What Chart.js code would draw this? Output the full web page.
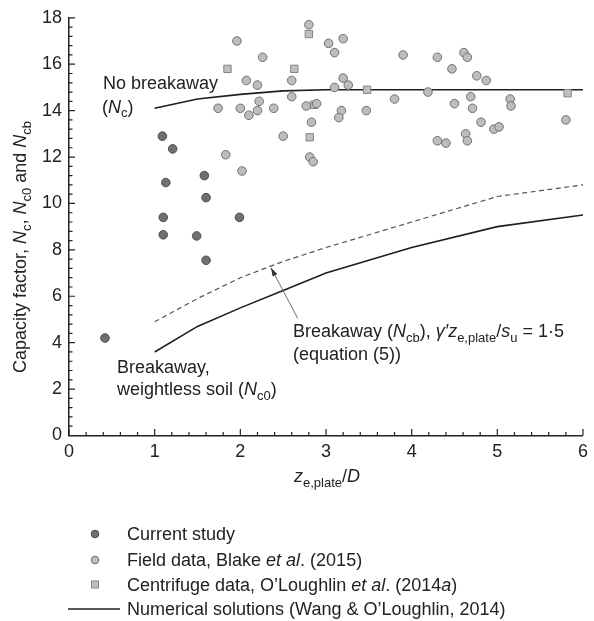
<!DOCTYPE html>
<html>
<head>
<meta charset="utf-8">
<script src="https://cdn.jsdelivr.net/npm/chart.js@4.4.1/dist/chart.umd.min.js"></script>
<style>
  html, body { margin: 0; padding: 0; background: #fff; }
  canvas { display: block; }
</style>
</head>
<body>
<canvas id="capChart" width="594" height="621"></canvas>
<script>
// values
const currentX = [1.09, 1.21, 1.13, 1.10, 1.10, 1.58, 1.60, 1.49, 1.60, 1.99, 0.42];
const currentY = [12.9, 12.35, 10.9, 9.4, 8.65, 11.2, 10.25, 8.6, 7.55, 9.4, 4.2];

const fieldX = [1.96, 2.26, 2.07, 2.20, 2.60, 2.60, 1.74, 2.00, 2.10, 2.22, 2.20, 2.39, 2.50, 1.83, 2.02,
  2.80, 3.03, 3.10, 3.20, 3.20, 3.10, 3.26, 2.77, 2.89, 2.83, 3.18, 3.15, 3.47, 2.81, 2.85,
  3.80, 4.19, 3.90, 4.30, 4.61, 4.65, 4.47, 4.76, 4.87, 4.50, 4.69, 4.71, 4.81, 4.96, 5.02,
  5.15, 5.16, 4.30, 4.40, 4.63, 4.65, 5.80];
const fieldY = [17.0, 16.3, 15.3, 15.1, 15.3, 14.6, 14.1, 14.1, 13.8, 14.4, 14.0, 14.1, 12.9, 12.1, 11.4,
  17.7, 16.9, 16.5, 17.1, 15.4, 15.0, 15.1, 14.2, 14.3, 13.5, 14.0, 13.7, 14.0, 12.0, 11.8,
  14.5, 14.8, 16.4, 16.3, 16.5, 16.3, 15.8, 15.5, 15.3, 14.3, 14.6, 14.1, 13.5, 13.2, 13.3,
  14.5, 14.2, 12.7, 12.6, 13.0, 12.7, 13.6];

const centX = [1.85, 2.63, 2.80, 3.48, 2.86, 2.81, 5.82];
const centY = [15.8, 15.8, 17.3, 14.9, 14.25, 12.85, 14.75];

// numerical solutions (Wang & O'Loughlin, 2014)
const solX = [1, 1.5, 2, 2.5, 3, 4, 5, 6];
const ncVals = [14.1, 14.5, 14.7, 14.85, 14.9, 14.9, 14.9, 14.9];
const nc0Vals = [3.6, 4.7, 5.5, 6.25, 7.0, 8.1, 9.0, 9.5];
const ncbVals = [4.9, 5.9, 6.8, 7.5, 8.1, 9.2, 10.3, 10.8];

const xTicks = [0, 1, 2, 3, 4, 5, 6];
const yTicks = [0, 2, 4, 6, 8, 10, 12, 14, 16, 18];

const FONT = '"Liberation Sans", Arial, Helvetica, sans-serif';
const INK = '#222';

function pts(xs, ys) {
  return xs.map((v, i) => ({ x: v, y: ys[i] }));
}

// draw text made of pieces, flags: i = italic, s = subscript
function richText(ctx, parts, x, y, align) {
  const fontFor = f => (f.includes('i') ? 'italic ' : '') + (f.includes('s') ? 13 : 18) + 'px ' + FONT;
  let w = 0;
  parts.forEach(p => { ctx.font = fontFor(p[1] || ''); w += ctx.measureText(p[0]).width; });
  let cx = align === 'center' ? x - w / 2 : x;
  ctx.textAlign = 'left';
  ctx.textBaseline = 'alphabetic';
  parts.forEach(p => {
    const f = p[1] || '';
    ctx.font = fontFor(f);
    ctx.fillText(p[0], cx, y + (f.includes('s') ? 4.5 : 0));
    cx += ctx.measureText(p[0]).width;
  });
}

// inward ticks, major and minor
const axisTicks = {
  id: 'axisTicks',
  afterDatasetsDraw(chart) {
    const { ctx, chartArea, scales: { x, y } } = chart;
    ctx.save();
    ctx.strokeStyle = INK;
    ctx.lineWidth = 1.2;
    ctx.beginPath();
    for (let i = 0; i <= 30; i++) {
      const px = x.getPixelForValue(i * 0.2);
      const len = i % 5 === 0 ? 6.5 : 3.5;
      ctx.moveTo(px, chartArea.bottom);
      ctx.lineTo(px, chartArea.bottom - len);
    }
    for (let i = 0; i <= 45; i++) {
      const py = y.getPixelForValue(i * 0.4);
      const len = i % 5 === 0 ? 6 : 3.5;
      ctx.moveTo(chartArea.left, py);
      ctx.lineTo(chartArea.left + len, py);
    }
    ctx.stroke();
    ctx.restore();
  }
};

// labels, arrow, axis titles and the legend
const annotations = {
  id: 'annotations',
  afterDraw(chart) {
    const { ctx, scales: { x, y } } = chart;
    ctx.save();
    ctx.fillStyle = INK;

    richText(ctx, [['No breakaway']], 103, 89);
    richText(ctx, [['('], ['N', 'i'], ['c', 's'], [')']], 102, 112.5);
    richText(ctx, [['Breakaway ('], ['N', 'i'], ['cb', 's'], ['), '], ['\u03B3\u2032z', 'i'], ['e,plate', 's'], ['/'], ['s', 'i'], ['u', 's'], [' = 1\u00B75']], 293, 337);
    richText(ctx, [['(equation (5))']], 293, 360);
    richText(ctx, [['Breakaway,']], 117, 372.5);
    richText(ctx, [['weightless soil ('], ['N', 'i'], ['c0', 's'], [')']], 117, 395);

    // arrow pointing at the dashed curve
    const tx = x.getPixelForValue(2.357), ty = y.getPixelForValue(7.23);
    const fx = x.getPixelForValue(2.67), fy = y.getPixelForValue(5.05);
    ctx.strokeStyle = '#6a6a6a';
    ctx.fillStyle = '#333';
    ctx.lineWidth = 1;
    ctx.beginPath();
    ctx.moveTo(fx, fy);
    ctx.lineTo(tx, ty);
    ctx.stroke();
    const ang = Math.atan2(ty - fy, tx - fx);
    ctx.beginPath();
    ctx.moveTo(tx, ty);
    ctx.lineTo(tx - 9 * Math.cos(ang - 0.3), ty - 9 * Math.sin(ang - 0.3));
    ctx.lineTo(tx - 9 * Math.cos(ang + 0.3), ty - 9 * Math.sin(ang + 0.3));
    ctx.closePath();
    ctx.fill();

    // axis titles
    ctx.fillStyle = INK;
    richText(ctx, [['z', 'i'], ['e,plate', 's'], ['/'], ['D', 'i']], 327, 482, 'center');
    ctx.save();
    ctx.translate(26, 247);
    ctx.rotate(-Math.PI / 2);
    richText(ctx, [['Capacity factor, '], ['N', 'i'], ['c', 's'], [', '], ['N', 'i'], ['c0', 's'], [' and '], ['N', 'i'], ['cb', 's']], 0, 0, 'center');
    ctx.restore();

    // legend
    const ds = chart.data.datasets;
    const mx = 95, tx0 = 127;
    ctx.lineWidth = 1;
    ctx.fillStyle = ds[0].backgroundColor; ctx.strokeStyle = ds[0].borderColor;
    ctx.beginPath(); ctx.arc(mx, 534, 3.8, 0, Math.PI * 2); ctx.fill(); ctx.stroke();
    ctx.fillStyle = ds[1].backgroundColor; ctx.strokeStyle = ds[1].borderColor;
    ctx.beginPath(); ctx.arc(mx, 560, 3.8, 0, Math.PI * 2); ctx.fill(); ctx.stroke();
    ctx.fillStyle = ds[2].backgroundColor; ctx.strokeStyle = ds[2].borderColor;
    ctx.fillRect(mx - 3.5, 584.5 - 3.5, 7, 7); ctx.strokeRect(mx - 3.5, 584.5 - 3.5, 7, 7);
    ctx.strokeStyle = ds[3].borderColor; ctx.lineWidth = 1.5;
    ctx.beginPath(); ctx.moveTo(68, 609); ctx.lineTo(120, 609); ctx.stroke();

    ctx.fillStyle = INK;
    richText(ctx, [['Current study']], tx0, 540);
    richText(ctx, [['Field data, Blake '], ['et al', 'i'], ['. (2015)']], tx0, 565.5);
    richText(ctx, [['Centrifuge data, O\u2019Loughlin '], ['et al', 'i'], ['. (2014'], ['a', 'i'], [')']], tx0, 590.5);
    richText(ctx, [['Numerical solutions (Wang & O\u2019Loughlin, 2014)']], tx0, 615);
    ctx.restore();
  }
};

const tickFont = { family: FONT, size: 18 };

new Chart(document.getElementById('capChart'), {
  type: 'scatter',
  data: {
    datasets: [
      {
        label: 'Current study',
        data: pts(currentX, currentY),
        pointStyle: 'circle', pointRadius: 4.3,
        backgroundColor: '#707070', borderColor: '#4e4e4e', borderWidth: 1,
        order: 0
      },
      {
        label: 'Field data, Blake et al. (2015)',
        data: pts(fieldX, fieldY),
        pointStyle: 'circle', pointRadius: 4.3,
        backgroundColor: '#bdbdbd', borderColor: '#707070', borderWidth: 1,
        order: 0
      },
      {
        label: 'Centrifuge data, O\u2019Loughlin et al. (2014a)',
        data: pts(centX, centY),
        pointStyle: 'rect', pointRadius: 5.2,
        backgroundColor: '#bfbfbf', borderColor: '#858585', borderWidth: 1,
        order: 0
      },
      {
        label: 'No breakaway (Nc)',
        data: pts(solX, ncVals),
        showLine: true, pointRadius: 0, tension: 0, fill: false,
        borderColor: '#1e1e1e', borderWidth: 1.6,
        order: 1
      },
      {
        label: 'Breakaway, weightless soil (Nc0)',
        data: pts(solX, nc0Vals),
        showLine: true, pointRadius: 0, tension: 0, fill: false,
        borderColor: '#1e1e1e', borderWidth: 1.6,
        order: 1
      },
      {
        label: 'Breakaway (Ncb)',
        data: pts(solX, ncbVals),
        showLine: true, pointRadius: 0, tension: 0, fill: false,
        borderColor: '#555', borderWidth: 1.2, borderDash: [5, 3.5],
        order: 1
      }
    ]
  },
  options: {
    responsive: false,
    animation: false,
    events: [],
    layout: { padding: { top: 17, right: 5, left: 0, bottom: 0 } },
    plugins: {
      legend: { display: false },
      tooltip: { enabled: false }
    },
    scales: {
      x: {
        type: 'linear', min: 0, max: 6,
        afterFit: s => { s.height = 185.5; },
        afterBuildTicks: s => { s.ticks = xTicks.map(v => ({ value: v })); },
        ticks: { padding: 6, color: INK, font: tickFont },
        grid: { display: false, drawTicks: false },
        border: { display: true, color: INK, width: 1.5 }
      },
      y: {
        type: 'linear', min: 0, max: 18,
        afterFit: s => { s.width = 69; },
        afterBuildTicks: s => { s.ticks = yTicks.map(v => ({ value: v })); },
        ticks: { padding: 7, color: INK, font: tickFont },
        grid: { display: false, drawTicks: false },
        border: { display: true, color: INK, width: 1.5 }
      }
    }
  },
  plugins: [axisTicks, annotations]
});
</script>
</body>
</html>
